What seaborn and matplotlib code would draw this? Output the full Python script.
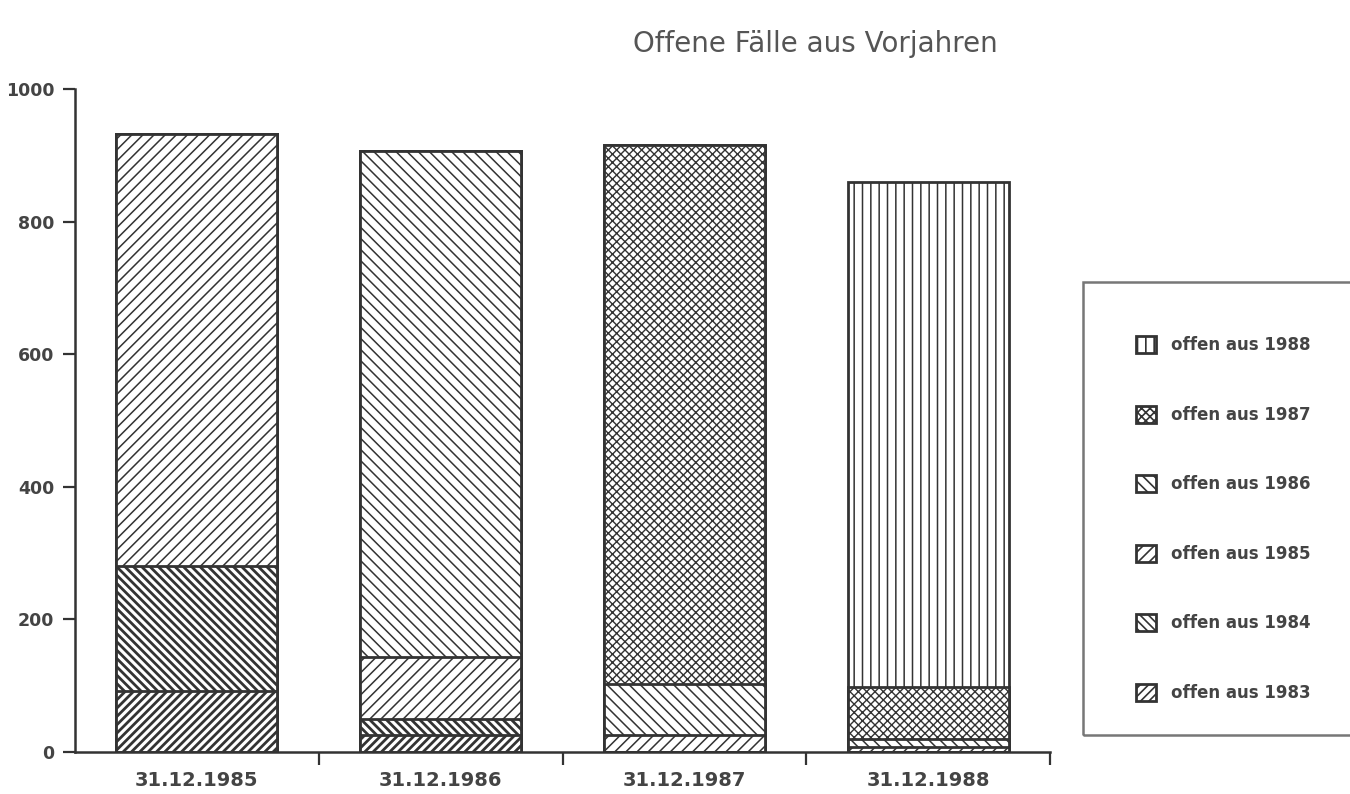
import numpy as np
import matplotlib
matplotlib.use("Agg")
import matplotlib.pyplot as plt
from matplotlib.patches import Patch, Rectangle
import seaborn as sns

# Stichtage und offene Fälle je Herkunftsjahr
dates = ["31.12.1985", "31.12.1986", "31.12.1987", "31.12.1988"]
offen_1983 = [92, 25, 0, 0]
offen_1984 = [188, 25, 0, 0]
offen_1985 = [652, 93, 25, 8]
offen_1986 = [0, 763, 77, 12]
offen_1987 = [0, 0, 813, 78]
offen_1988 = [0, 0, 0, 762]

years = ["1983", "1984", "1985", "1986", "1987", "1988"]
series = [offen_1983, offen_1984, offen_1985, offen_1986, offen_1987, offen_1988]
hatches = ["////", "\\\\\\\\", "///", "\\\\\\", "xxxx", "||"]
hatch_lw = [2.0, 2.0, 1.1, 1.1, 1.0, 1.1]

ink = "#333333"

sns.set_style("white")
plt.rcParams["font.family"] = ["DejaVu Sans"]
plt.rcParams["hatch.linewidth"] = 1.2
plt.rcParams["hatch.color"] = ink

fig = plt.figure(figsize=(13.5, 7.94), dpi=100)
ax = fig.add_axes([0.0556, 0.0529, 0.7222, 0.8350])

# stacked bars: draw cumulative totals from the top layer down
cum = np.cumsum(np.array(series), axis=0)
for i in range(len(series) - 1, -1, -1):
    n_before = len(ax.patches)
    sns.barplot(x=dates, y=cum[i], color="white", edgecolor=ink, linewidth=2,
                hatch=hatches[i], width=0.66, errorbar=None, saturation=1, ax=ax)
    for p in ax.patches[n_before:]:
        p.set_facecolor("white")
        if hasattr(p, "set_hatch_linewidth"):
            p.set_hatch_linewidth(hatch_lw[i])

ax.set_xlim(-0.5, 3.5)
ax.set_ylim(0, 1000)
ax.set_yticks([0, 200, 400, 600, 800, 1000])
ax.set_xticks(range(len(dates)))
ax.set_xticklabels(dates, fontsize=14, fontweight="bold", color="#444444")
ax.set_xticks([0.5, 1.5, 2.5, 3.5], minor=True)
ax.tick_params(axis="x", which="major", bottom=True, length=0, pad=14)
ax.tick_params(axis="x", which="minor", bottom=True, length=9, width=1.6,
               color=ink, direction="out")
ax.tick_params(axis="y", which="major", left=True, length=9, width=1.6, color=ink,
               direction="out", labelsize=12.5, labelcolor="#444444", pad=6)
for lab in ax.get_yticklabels():
    lab.set_fontweight("bold")
ax.set_xlabel("")
ax.set_ylabel("")
sns.despine(ax=ax)
for s in ["left", "bottom"]:
    ax.spines[s].set_color(ink)
    ax.spines[s].set_linewidth(1.8)

fig.text(0.604, 0.945, "Offene Fälle aus Vorjahren", ha="center", va="center",
         fontsize=20, color="#555555")

# legend box (runs off the right edge as in the original)
fig.patches.append(Rectangle((0.802, 0.074), 0.25, 0.571, transform=fig.transFigure,
                             fill=False, edgecolor="#777777", linewidth=1.8))
handles = [Patch(facecolor="white", edgecolor=ink, hatch=hatches[i], linewidth=2,
                 label=f"offen aus {years[i]}") for i in range(len(years) - 1, -1, -1)]
leg = fig.legend(handles=handles, loc="upper left", bbox_to_anchor=(0.835, 0.587),
                 frameon=False, fontsize=12, handlelength=1.2, handleheight=1.2,
                 handletextpad=0.9, labelspacing=3.08, borderpad=0)
for t in leg.get_texts():
    t.set_fontweight("bold")
    t.set_color("#444444")

fig.savefig("out.png", dpi=100)
